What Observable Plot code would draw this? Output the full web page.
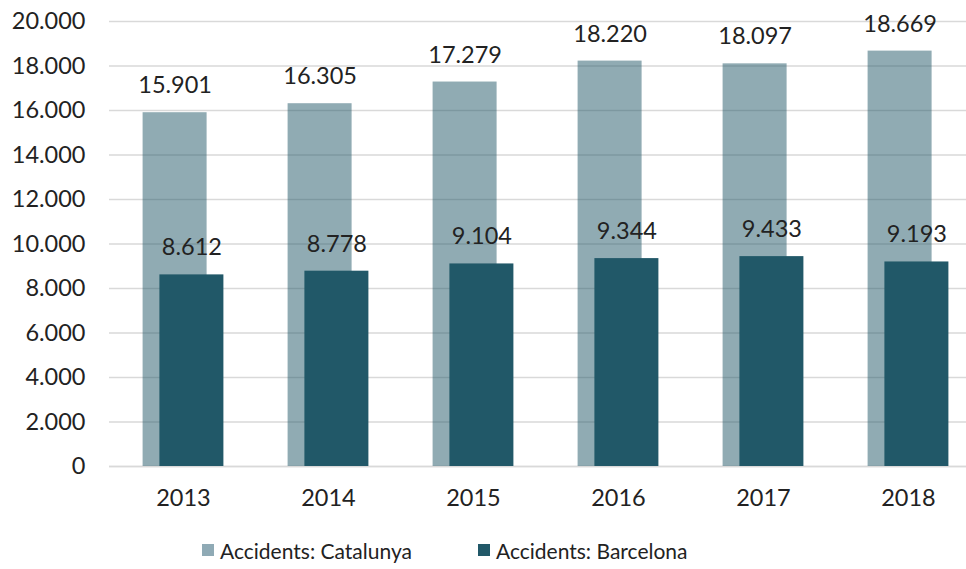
<!DOCTYPE html>
<html>
<head>
<meta charset="utf-8">
<script src="https://cdn.jsdelivr.net/npm/d3@7"></script>
<script src="https://cdn.jsdelivr.net/npm/@observablehq/plot@0.6"></script>
<style>
  body { margin: 0; background: #fff; font-family: Lato, "Open Sans", sans-serif; }
  #legend { display: flex; justify-content: flex-start; align-items: center; height: 44px; padding-top: 8px; padding-left: 202px; font-size: 21px; color: #222; }
  .item { display: flex; align-items: center; margin-right: 66px; }
  .sw { width: 12px; height: 12px; margin-right: 6px; }
</style>
</head>
<body>
<div id="chart"></div>
<div id="legend"></div>
<script>
const years = ["2013", "2014", "2015", "2016", "2017", "2018"];
const catalunya = [15901, 16305, 17279, 18220, 18097, 18669];
const barcelona = [8612, 8778, 9104, 9344, 9433, 9193];
const yTicks = [0, 2000, 4000, 6000, 8000, 10000, 12000, 14000, 16000, 18000, 20000];
const seriesNames = ["Accidents: Catalunya", "Accidents: Barcelona"];
const darkColor = "#215868";
const lightColor = "#8FAAB5";

const fmt = d3.formatLocale({decimal: ",", thousands: ".", grouping: [3]}).format(",d");
const catData = years.map((y, i) => ({year: y, value: catalunya[i]}));
const bcnData = years.map((y, i) => ({year: y, value: barcelona[i]}));

const FS = 23.5;
const chart = Plot.plot({
  width: 966,
  height: 520,
  marginLeft: 109,
  marginRight: 0,
  marginTop: 21,
  marginBottom: 54,
  style: {fontFamily: "Lato, 'Open Sans', sans-serif", fontSize: FS + "px", color: "#222", background: "#fff"},
  x: {domain: years, range: [110.5, 980.5], paddingInner: 0.5586, paddingOuter: 0.2793, label: null},
  y: {domain: [0, 20000], label: null},
  marks: [
    Plot.gridY(yTicks, {stroke: "#d9d9d9", strokeOpacity: 1, strokeWidth: 1.4}),
    Plot.ruleY([0], {stroke: "#d9d9d9", strokeWidth: 1.4}),
    Plot.barY(catData, {x: "year", y: "value", fill: darkColor, fillOpacity: 0.5, dx: -8.4}),
    Plot.barY(bcnData, {x: "year", y: "value", fill: darkColor, dx: 8.4}),
    Plot.text(catData, {x: "year", y: "value", text: d => fmt(d.value), dx: -8.4, dy: -27, fill: "#222", fontSize: FS}),
    Plot.text(bcnData, {x: "year", y: "value", text: d => fmt(d.value), dx: 8.4, dy: -27, fill: "#222", fontSize: FS}),
    Plot.axisY(yTicks, {tickSize: 0, tickPadding: 24, tickFormat: fmt, label: null, fontSize: FS, fill: "#222"}),
    Plot.axisX({tickSize: 0, tickPadding: 23, label: null, fontSize: FS, fill: "#222"})
  ]
});
document.getElementById("chart").appendChild(chart);

const legend = document.getElementById("legend");
[lightColor, darkColor].forEach((c, i) => {
  const it = document.createElement("div");
  it.className = "item";
  const sw = document.createElement("span");
  sw.className = "sw";
  sw.style.background = c;
  const t = document.createElement("span");
  t.textContent = seriesNames[i];
  it.appendChild(sw); it.appendChild(t);
  legend.appendChild(it);
});
</script>
</body>
</html>
